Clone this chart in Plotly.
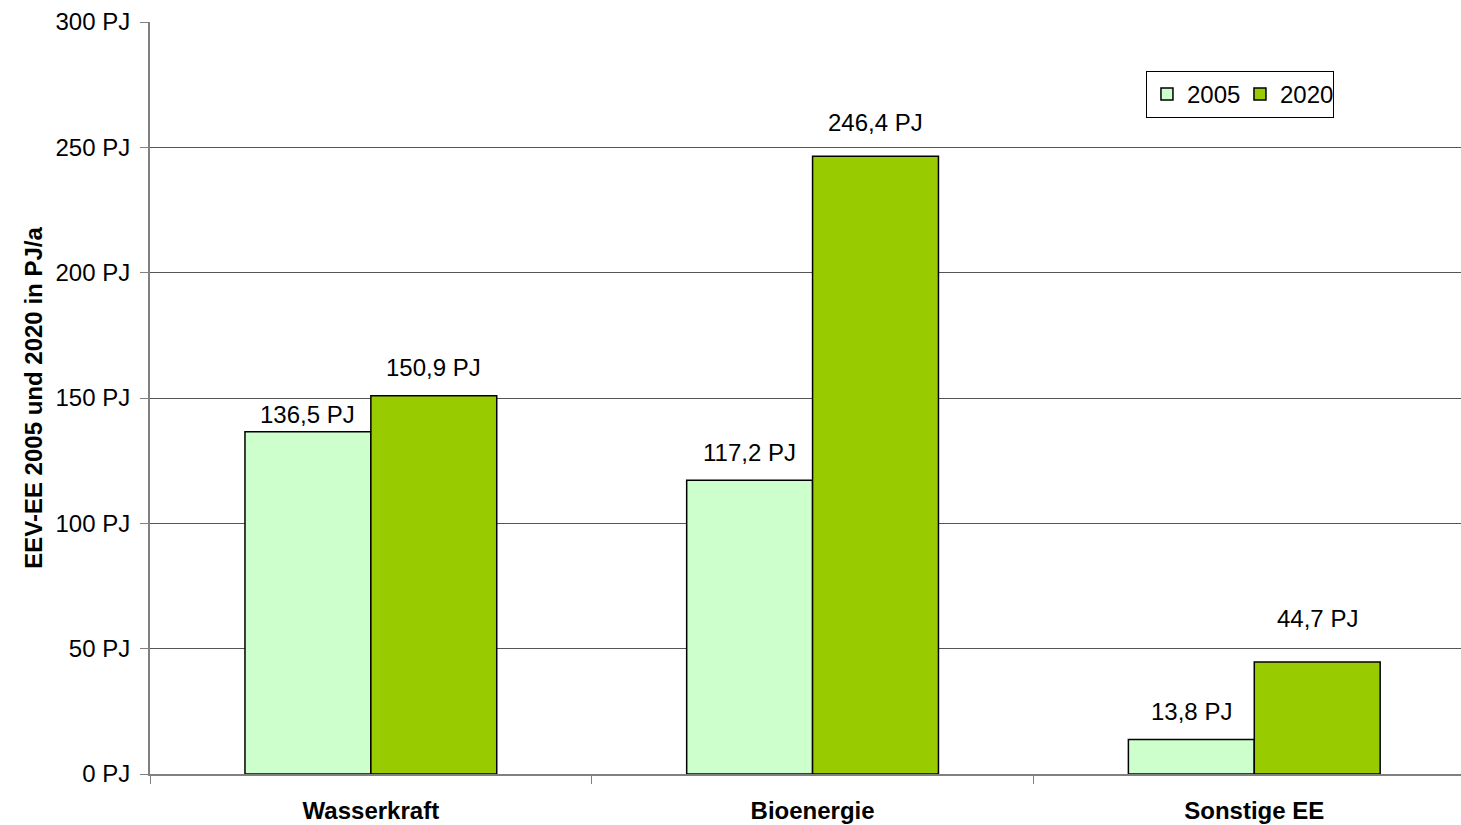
import plotly.graph_objects as go

categories = ["Wasserkraft", "Bioenergie", "Sonstige EE"]
values_2005 = [136.5, 117.2, 13.8]
values_2020 = [150.9, 246.4, 44.7]
y_ticks = [0, 50, 100, 150, 200, 250, 300]
y_tick_labels = [f"{v} PJ" for v in y_ticks]

FONT = "Liberation Sans, Arial, sans-serif"
FS = 24

# pixel offsets of the value labels above each bar top
lift_2005 = [17, 28, 28]
lift_2020 = [28, 34, 43]
BAR_HALF_PX = 63  # half of a bar's drawn width, centre of each bar in its group


def pj_label(v):
    return f"{v:.1f}".replace(".", ",") + " PJ"


fig = go.Figure()
fig.add_trace(go.Bar(
    name="2005", x=categories, y=values_2005,
    marker=dict(color="#ccffcc", line=dict(color="#000000", width=1.5)),
))
fig.add_trace(go.Bar(
    name="2020", x=categories, y=values_2020,
    marker=dict(color="#99cc00", line=dict(color="#000000", width=1.5)),
))

for cat, v, lift in zip(categories, values_2005, lift_2005):
    fig.add_annotation(x=cat, y=v, text=pj_label(v), showarrow=False,
                       xshift=-BAR_HALF_PX, yshift=lift,
                       font=dict(size=FS, family=FONT, color="#000000"),
                       bgcolor="white")
for cat, v, lift in zip(categories, values_2020, lift_2020):
    fig.add_annotation(x=cat, y=v, text=pj_label(v), showarrow=False,
                       xshift=BAR_HALF_PX, yshift=lift,
                       font=dict(size=FS, family=FONT, color="#000000"),
                       bgcolor="white")

fig.update_layout(
    width=1461, height=825,
    margin=dict(l=150, r=0, t=22, b=51),
    paper_bgcolor="white", plot_bgcolor="white",
    barmode="group", bargap=0.43, bargroupgap=0,
    font=dict(family=FONT, size=FS, color="#000000"),
    legend=dict(
        orientation="h", x=0.7597, y=0.935, xanchor="left", yanchor="top",
        bgcolor="white", bordercolor="#000000", borderwidth=1,
        font=dict(size=FS, family=FONT),
        entrywidth=48, entrywidthmode="pixels",
        itemwidth=30, tracegroupgap=0,
    ),
    xaxis=dict(
        type="category", range=[-0.5, 2.468],
        tickson="boundaries", ticks="outside", ticklen=8,
        tickcolor="#808080", showline=True, linecolor="#808080", linewidth=2,
        tickfont=dict(size=FS, family=FONT, weight="bold"),
        ticklabelstandoff=14,
        showgrid=False,
    ),
    yaxis=dict(
        range=[0, 300], tickvals=y_ticks, ticktext=y_tick_labels,
        ticks="outside", ticklen=8, tickcolor="#808080",
        showline=True, linecolor="#808080", linewidth=2,
        showgrid=True, gridcolor="#555555", gridwidth=1,
        zeroline=False,
        tickfont=dict(size=FS, family=FONT),
        ticklabelstandoff=5,
        title=dict(text="<b>EEV-EE 2005 und 2020 in PJ/a</b>",
                   font=dict(size=FS, family=FONT), standoff=6),
    ),
)

fig.write_html("out.html")
